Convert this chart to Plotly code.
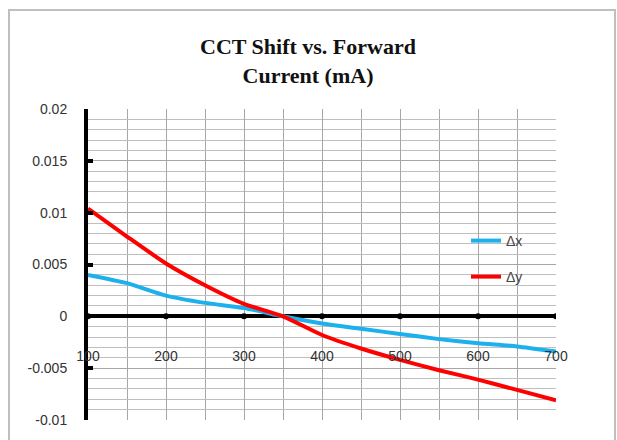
import plotly.graph_objects as go

current_ma = [100, 150, 200, 250, 300, 350, 400, 450, 500, 550, 600, 650, 700]
delta_x = [0.0040, 0.0032, 0.0020, 0.0013, 0.0008, 0.0000, -0.0007, -0.0012,
           -0.0017, -0.0022, -0.0026, -0.0029, -0.0034]
delta_y = [0.0104, 0.0077, 0.0051, 0.0030, 0.0012, 0.0000, -0.0018, -0.0031,
           -0.0042, -0.0052, -0.0061, -0.0071, -0.0081]

x_ticks = [100, 200, 300, 400, 500, 600, 700]
y_ticks = [0.02, 0.015, 0.01, 0.005, 0, -0.005, -0.01]
y_tick_labels = ["0.02", "0.015", "0.01", "0.005", "0", "-0.005", "-0.01"]

title_lines = ["CCT Shift vs. Forward", "Current (mA)"]

fig = go.Figure()

fig.add_trace(go.Scatter(
    x=current_ma, y=delta_x, mode="lines", name="Δx",
    line=dict(color="#1CB0EC", width=4, shape="spline", smoothing=0.6),
    legend="legend",
))
fig.add_trace(go.Scatter(
    x=current_ma, y=delta_y, mode="lines", name="Δy",
    line=dict(color="#FF0000", width=4, shape="spline", smoothing=0.6),
    legend="legend2",
))
# tick dots on zero line
fig.add_trace(go.Scatter(
    x=x_ticks, y=[0] * len(x_ticks), mode="markers",
    marker=dict(color="black", size=6, symbol="circle"),
    showlegend=False, hoverinfo="skip",
))

W, H = 617, 440
L, R, T, B = 88, 61, 109, 20
ph = H - T - B
pw = W - L - R

fig.update_layout(
    width=W, height=H,
    margin=dict(l=L, r=R, t=T, b=B),
    paper_bgcolor="white", plot_bgcolor="white",
    title=dict(
        text="<br>".join("<b>" + s + "</b>" for s in title_lines),
        x=(308 - L) / pw, xref="paper", xanchor="center",
        y=1 - 54 / H, yanchor="top",
        font=dict(family="Liberation Serif", size=22, color="#111111"),
    ),
    xaxis=dict(
        range=[100, 700], tickvals=x_ticks,
        anchor="free", position=(420 - 346) / ph,
        showline=False, zeroline=False,
        showgrid=True, gridcolor="#A6A6A6", gridwidth=1,
        minor=dict(dtick=50, tick0=100, showgrid=True, gridcolor="#A6A6A6", gridwidth=1),
        ticks="", tickfont=dict(family="Liberation Sans", size=14, color="#333333"),
    ),
    yaxis=dict(
        range=[-0.01, 0.02], tickvals=y_ticks, ticktext=y_tick_labels,
        showline=True, linecolor="black", linewidth=4, mirror=False,
        zeroline=True, zerolinecolor="black", zerolinewidth=4,
        showgrid=True, gridcolor="#A6A6A6", gridwidth=1,
        minor=dict(dtick=0.001, tick0=0, showgrid=True, gridcolor="#BFBFBF", gridwidth=1),
        ticks="inside", ticklen=5, tickwidth=4, tickcolor="black",
        ticklabelstandoff=14,
        tickfont=dict(family="Liberation Sans", size=14, color="#333333"),
    ),
    legend=dict(
        x=(466 - L) / pw, y=(420 - 225) / ph, xanchor="left", yanchor="top",
        bgcolor="rgba(0,0,0,0)", font=dict(family="Liberation Sans", size=14, color="#444444"),
    ),
    legend2=dict(
        x=(466 - L) / pw, y=(420 - 261) / ph, xanchor="left", yanchor="top",
        bgcolor="rgba(0,0,0,0)", font=dict(family="Liberation Sans", size=14, color="#444444"),
    ),
    shapes=[dict(
        type="rect", xref="paper", yref="paper",
        x0=(9 - L) / pw, x1=(615 - L) / pw, y0=(0 - B) / ph - 0.01, y1=(420 - 10) / ph,
        line=dict(color="#BFBFBF", width=2), fillcolor="rgba(0,0,0,0)", layer="below",
    )],
)

fig.write_html("out.html", config={"displayModeBar": False},
               post_script="document.body.style.margin='0px';")
